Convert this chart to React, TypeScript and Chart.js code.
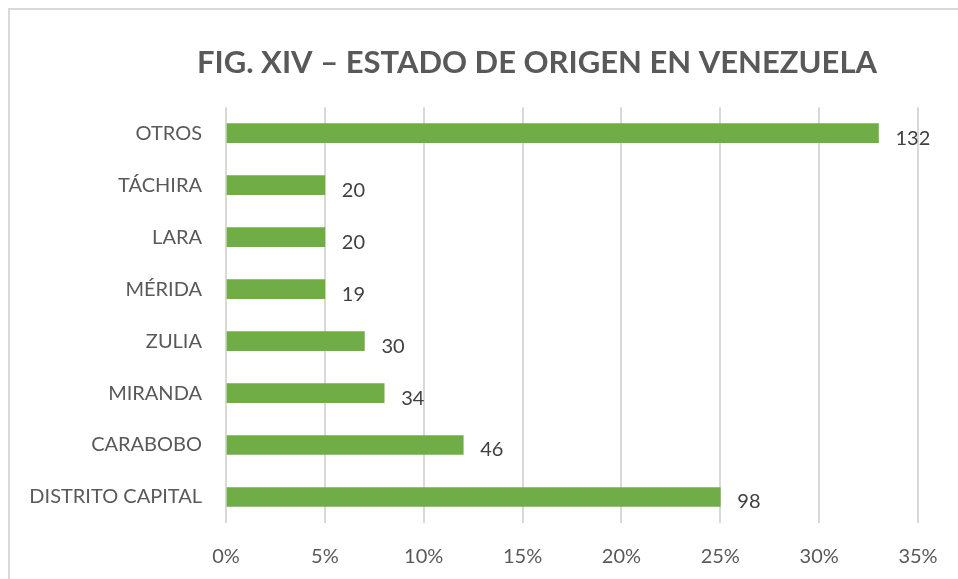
import React, { useEffect, useRef } from "react";
import { Chart, registerables } from "chart.js";

Chart.register(...registerables);

const categories = ["OTROS", "TÁCHIRA", "LARA", "MÉRIDA", "ZULIA", "MIRANDA", "CARABOBO", "DISTRITO CAPITAL"];
const percentValues = [33, 5, 5, 5, 7, 8, 12, 25];
const countLabels = ["132", "20", "20", "19", "30", "34", "46", "98"];
const xTicks = [0, 5, 10, 15, 20, 25, 30, 35];
const titleText = "FIG. XIV – ESTADO DE ORIGEN EN VENEZUELA";

const FONT = "Lato, 'Open Sans', sans-serif";

const dataLabelPlugin = {
  id: "countLabels",
  afterDatasetsDraw(chart: any) {
    const ctx = chart.ctx;
    const meta = chart.getDatasetMeta(0);
    ctx.save();
    ctx.font = `20px ${FONT}`;
    ctx.fillStyle = "#404040";
    ctx.textAlign = "left";
    ctx.textBaseline = "middle";
    meta.data.forEach((el: any, i: number) => {
      ctx.fillText(countLabels[i], el.x + 17, el.y + 5);
    });
    ctx.restore();
  },
};

export default function App() {
  const ref = useRef<HTMLCanvasElement | null>(null);
  useEffect(() => {
    if (!ref.current) return;
    const chart = new Chart(ref.current, {
      type: "bar",
      data: {
        labels: categories,
        datasets: [
          {
            data: percentValues,
            backgroundColor: "#70ad47",
            borderWidth: 0,
            barThickness: 19,
          },
        ],
      },
      plugins: [dataLabelPlugin],
      options: {
        indexAxis: "y",
        animation: false,
        responsive: false,
        maintainAspectRatio: false,
        layout: { padding: 0 },
        plugins: {
          legend: { display: false },
          tooltip: { enabled: false },
          title: {
            display: true,
            text: titleText,
            color: "#595959",
            font: { family: FONT, size: 31, weight: "bold", lineHeight: 1.2 },
            padding: { top: 34, bottom: 26 },
          },
        },
        scales: {
          x: {
            min: 0,
            max: 35,
            afterBuildTicks(scale: any) {
              scale.ticks = xTicks.map((v) => ({ value: v }));
            },
            afterFit(scale: any) {
              scale.height = 56;
            },
            grid: { color: "#d9d9d9", lineWidth: 2, drawTicks: false },
            border: { display: false },
            ticks: {
              padding: 22,
              color: "#595959",
              font: { family: FONT, size: 20 },
              callback: (v: any) => `${v}%`,
            },
          },
          y: {
            afterFit(scale: any) {
              scale.width = 216;
            },
            grid: { display: false, drawTicks: false },
            border: { display: false },
            ticks: {
              padding: 24,
              color: "#595959",
              font: { family: FONT, size: 20 },
            },
          },
          yRight: {
            type: "category",
            axis: "y",
            position: "right",
            display: true,
            afterFit(scale: any) {
              scale.width = 146;
            },
            grid: { display: false, drawTicks: false },
            border: { display: false },
            ticks: { display: false },
          },
        },
      },
    });
    return () => chart.destroy();
  }, []);

  return (
    <div
      style={{
        position: "fixed",
        left: 8,
        top: 8,
        width: 950,
        height: 571,
        overflow: "hidden",
        borderTop: "2px solid #d9d9d9",
        borderLeft: "2px solid #d9d9d9",
        boxSizing: "border-box",
        background: "#fff",
      }}
    >
      <canvas ref={ref} width={1054} height={569} style={{ display: "block" }} />
    </div>
  );
}
